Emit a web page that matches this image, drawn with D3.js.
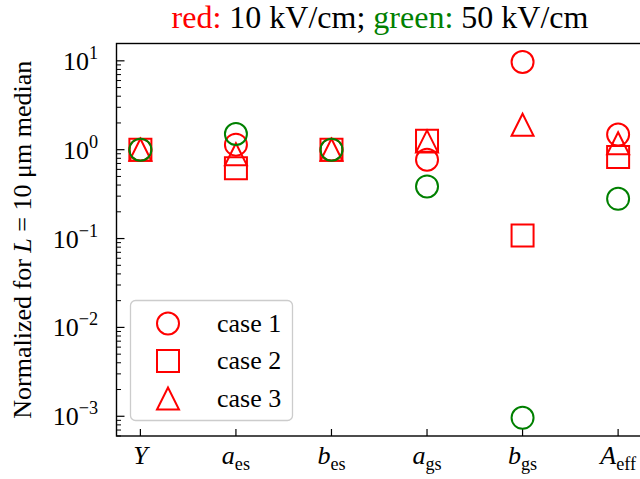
<!DOCTYPE html>
<html>
<head>
<meta charset="utf-8">
<script src="https://cdn.jsdelivr.net/npm/d3@7"></script>
</head>
<body style="margin:0">
<svg id="t" width="640" height="479"></svg>
<script>
// parameter names: main symbol (italic) + subscript (roman)
var paramMain = ["Y", "a", "b", "a", "b", "A"];
var paramSub = ["", "es", "es", "gs", "gs", "eff"];

// normalized values
var redCase1 = [1.0, 1.14, 1.0, 0.77, 9.7, 1.48];
var redCase2 = [1.0, 0.62, 1.0, 1.26, 0.108, 0.83];
var redCase3 = [1.0, 0.89, 1.0, 1.24, 1.91, 1.18];
var greenCase1 = [1.0, 1.5, 1.0, 0.386, 0.00096, 0.28];

var yTickExps = [-3, -2, -1, 0, 1];
var legendLabels = ["case 1", "case 2", "case 3"];

var chart = {};
chart.left = 116.5;
chart.right = 642;
chart.top = 43.5;
chart.bottom = 436;
chart.fontSize = 26;
chart.ms = 22;
chart.red = "#ff0000";
chart.green = "#008000";
chart.font = "'Times New Roman', 'Liberation Serif', monospace";

var svg = d3.select("#t");

var x = d3.scaleLinear().domain([-0.25, 5.25]).range([chart.left, chart.right]);
var y = d3.scaleLog().domain([Math.pow(10, -3.222), Math.pow(10, 1.195)]).range([chart.bottom, chart.top]);

// marker path builders
function markerPath(kind, s){
	var h = s / 2;
	if (kind == "circle"){
		var p = d3.path();
		p.arc(0, 0, h, 0, 2 * Math.PI);
		return p.toString();
	}
	if (kind == "square") return "M" + (-h) + "," + (-h) + "H" + h + "V" + h + "H" + (-h) + "Z";
	return "M0," + (-h) + "L" + (-h) + "," + h + "L" + h + "," + h + "Z";
}

// minor ticks on log axis
var minorTicks = [];
[-4, -3, -2, -1, 0, 1].forEach(function(e){
	for (var m = 2; m <= 9; m++){
		var v = m * Math.pow(10, e);
		if (v >= y.domain()[0] && v <= y.domain()[1]) minorTicks.push(v);
	}
});

var axes = svg.append("g");

axes.selectAll("line.minor").data(minorTicks).enter().append("line")
	.attr("x1", chart.left).attr("x2", chart.left + 4.5)
	.attr("y1", function(d){ return y(d); }).attr("y2", function(d){ return y(d); })
	.attr("stroke", "#000").attr("stroke-width", 1);

axes.selectAll("line.major").data(yTickExps).enter().append("line")
	.attr("x1", chart.left).attr("x2", chart.left + 8)
	.attr("y1", function(d){ return y(Math.pow(10, d)); }).attr("y2", function(d){ return y(Math.pow(10, d)); })
	.attr("stroke", "#000").attr("stroke-width", 1.2);

var yLab = axes.selectAll("text.ylab").data(yTickExps).enter().append("text")
	.attr("font-family", chart.font)
	.style("font-family", chart.font)
	.style("font-size", chart.fontSize + "px")
	.attr("x", 98)
	.attr("y", function(d){ return y(Math.pow(10, d)) + 9; })
	.attr("text-anchor", "end");
yLab.append("tspan").text("10");
yLab.append("tspan").attr("dy", -11).style("font-size", (chart.fontSize * 0.7) + "px")
	.text(function(d){ return d < 0 ? "\u2212" + (-d) : d; });

// x ticks and labels
axes.selectAll("line.xtick").data(paramMain).enter().append("line")
	.attr("x1", function(d, i){ return x(i); }).attr("x2", function(d, i){ return x(i); })
	.attr("y1", chart.bottom).attr("y2", chart.bottom - 7)
	.attr("stroke", "#000").attr("stroke-width", 1.2);

var xLab = axes.selectAll("text.xlab").data(paramMain).enter().append("text")
	.attr("font-family", chart.font)
	.style("font-family", chart.font)
	.style("font-size", chart.fontSize + "px")
	.attr("x", function(d, i){ return x(i); })
	.attr("y", 464)
	.attr("text-anchor", "middle");
xLab.append("tspan").style("font-style", "italic").text(function(d){ return d; });
xLab.append("tspan").attr("dy", 6).style("font-size", (chart.fontSize * 0.7) + "px")
	.text(function(d, i){ return paramSub[i]; });

// spines (right one falls outside the picture)
svg.append("rect")
	.attr("x", chart.left).attr("y", chart.top)
	.attr("width", chart.right - chart.left).attr("height", chart.bottom - chart.top)
	.attr("fill", "none").attr("stroke", "#000").attr("stroke-width", 1.4);

// markers
var series = [
	{values: redCase1, kind: "circle", color: chart.red},
	{values: redCase2, kind: "square", color: chart.red},
	{values: redCase3, kind: "triangle", color: chart.red},
	{values: greenCase1, kind: "circle", color: chart.green}
];

series.forEach(function(s){
	svg.append("g").selectAll("path").data(s.values).enter().append("path")
		.attr("d", markerPath(s.kind, chart.ms))
		.attr("transform", function(d, i){ return "translate(" + x(i) + "," + y(d) + ")"; })
		.attr("fill", "none").attr("stroke", s.color).attr("stroke-width", 2);
});

// legend
var legendKinds = ["circle", "square", "triangle"];
var legend = svg.append("g");
legend.append("rect")
	.attr("x", 130.5).attr("y", 300.5).attr("width", 162).attr("height", 120).attr("rx", 5)
	.attr("fill", "#fff").attr("fill-opacity", 0.8).attr("stroke", "#cccccc").attr("stroke-width", 1.3);
legend.selectAll("path").data(legendKinds).enter().append("path")
	.attr("d", function(d){ return markerPath(d, chart.ms); })
	.attr("transform", function(d, i){ return "translate(168," + (323.5 + i * 37.5) + ")"; })
	.attr("fill", "none").attr("stroke", chart.red).attr("stroke-width", 2);
legend.selectAll("text").data(legendLabels).enter().append("text")
	.attr("font-family", chart.font)
	.style("font-family", chart.font)
	.style("font-size", chart.fontSize + "px")
	.attr("x", 217).attr("y", function(d, i){ return 331.5 + i * 37.5; })
	.text(function(d){ return d; });

// y label
var yTitle = svg.append("text")
	.attr("font-family", chart.font)
	.style("font-family", chart.font)
	.style("font-size", chart.fontSize + "px")
	.attr("transform", "translate(31," + ((chart.top + chart.bottom) / 2) + ") rotate(-90)")
	.attr("text-anchor", "middle");
yTitle.append("tspan").text("Normalized for ");
yTitle.append("tspan").style("font-style", "italic").text("L");
yTitle.append("tspan").text(" = 10 \u03bcm median");

// title
var title = svg.append("text")
	.attr("font-family", chart.font)
	.style("font-family", chart.font)
	.style("font-size", "32px")
	.attr("x", 380).attr("y", 28)
	.attr("text-anchor", "middle");
title.append("tspan").style("fill", chart.red).text("red:");
title.append("tspan").text(" 10 kV/cm; ");
title.append("tspan").style("fill", chart.green).text("green:");
title.append("tspan").text(" 50 kV/cm");
</script>
</body>
</html>
